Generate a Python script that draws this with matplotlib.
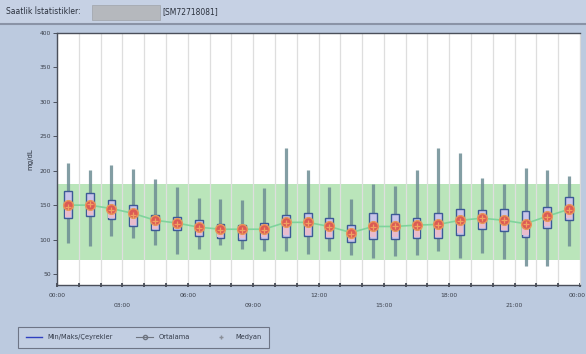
import matplotlib
matplotlib.use("Agg")
import matplotlib.pyplot as plt
from matplotlib.patches import Rectangle
from matplotlib.lines import Line2D
import numpy as np

# Hourly glucose statistics (mg/dL), one entry per hour slot
hours = [h + 0.5 for h in range(24)]
mins = [95, 90, 105, 102, 92, 79, 87, 92, 86, 83, 83, 79,
        83, 78, 73, 76, 78, 83, 73, 80, 72, 61, 61, 90]
q1 = [131, 134, 130, 119, 114, 114, 105, 102, 100, 101, 104, 105,
      102, 97, 101, 101, 102, 102, 107, 115, 112, 104, 117, 129]
medians = [148, 151, 143, 136, 127, 122, 117, 114, 114, 114, 124, 124,
           118, 108, 118, 120, 120, 121, 127, 132, 129, 122, 133, 143]
means = [150, 150, 145, 138, 128, 124, 118, 115, 115, 115, 125, 125,
         119, 110, 119, 119, 121, 122, 128, 131, 128, 123, 134, 144]
q3 = [170, 168, 157, 150, 136, 133, 129, 122, 121, 124, 136, 138,
      131, 121, 139, 137, 131, 139, 144, 143, 144, 141, 147, 162]
maxs = [211, 201, 209, 202, 188, 177, 160, 159, 158, 175, 233, 201,
        177, 159, 181, 178, 201, 233, 225, 189, 181, 204, 201, 192]

target_low, target_high = 70, 180
y_ticks = [50, 100, 150, 200, 250, 300, 350, 400]
x_tick_labels = ["00:00", "03:00", "06:00", "09:00", "12:00",
                 "15:00", "18:00", "21:00", "00:00"]

BG = "#bccadf"
fig = plt.figure(figsize=(5.86, 3.54), dpi=100, facecolor=BG)

# header strip
fig.patches.append(Rectangle((0, 1 - 23 / 354), 1, 23 / 354, transform=fig.transFigure,
                             facecolor="#c6d1e4", edgecolor="none", zorder=0))
fig.add_artist(Line2D([0, 1], [1 - 24 / 354] * 2, transform=fig.transFigure,
                      color="#8a93a6", lw=1.5))
fig.text(6 / 586, 1 - 12 / 354, "Saatlik İstatistikler:", fontsize=5.5,
         color="#2a303c", va="center", ha="left")
fig.patches.append(Rectangle((92 / 586, 1 - 20 / 354), 68 / 586, 15 / 354,
                             transform=fig.transFigure, facecolor="#b5b8bd",
                             edgecolor="#a0a4aa", lw=0.5))
fig.text(162 / 586, 1 - 12 / 354, "[SM72718081]", fontsize=5.5,
         color="#2a303c", va="center", ha="left")

ax = fig.add_axes([57 / 586, 69 / 354, 523 / 586, 252 / 354])
ax.set_facecolor("white")
ax.set_xlim(0, 24)
ax.set_ylim(34, 400)

# target range band
ax.axhspan(target_low, target_high, color="#bae5ba", zorder=0.5, lw=0)

# hourly grid
for h in range(25):
    ax.axvline(h, color="#dedede", lw=0.9, zorder=0.6)

bw = 0.36
for x, lo, a, b, hi in zip(hours, mins, q1, q3, maxs):
    ax.plot([x, x], [lo, hi], color="#6d8d94", lw=2.3, alpha=0.85,
            solid_capstyle="butt", zorder=2)
    ax.add_patch(Rectangle((x - bw / 2, a), bw, b - a, facecolor="#c9c4ea",
                           edgecolor="#3d5a96", lw=1.0, zorder=3))
    ax.add_patch(Rectangle((x - bw / 2 + 0.04, a + 2), bw - 0.08, (b - a) / 2 - 2,
                           facecolor="#e8bccd", edgecolor="none", zorder=3.1))

ax.plot(hours, means, color="#7fd39c", lw=1.2, zorder=4)
ax.plot(hours, means, linestyle="none", marker="o", ms=7,
        markerfacecolor="#dc5a55", markeredgecolor="#e8975a", mew=1.0, zorder=5)
ax.plot(hours, medians, linestyle="none", marker="+", ms=4,
        color="#f0a060", mew=0.9, zorder=6)

ax.set_yticks(y_ticks)
ax.set_yticklabels([str(v) for v in y_ticks])
ax.set_xticks(range(25))
ax.set_xticklabels([])
for i, lab in enumerate(x_tick_labels):
    xpos, ha = i * 3, "center"
    if i == len(x_tick_labels) - 1:
        xpos, ha = 24.25, "right"
    ax.text(xpos, -0.03 if i % 2 == 0 else -0.07, lab,
            transform=ax.get_xaxis_transform(), ha=ha, va="top",
            fontsize=4.3, color="#3a3f4a")
ax.tick_params(axis="y", labelsize=4.3, length=3, width=0.6, colors="#3a3f4a", pad=1.5)
ax.tick_params(axis="x", length=2.5, width=1.2, colors="#3a3f4a", direction="inout")
ax.set_ylabel("mg/dL", fontsize=5, color="#2a303c", labelpad=4)

for side in ["left", "bottom", "top"]:
    ax.spines[side].set_color("#4a4f5a")
    ax.spines[side].set_linewidth(1.0)
ax.spines["right"].set_color("#d8d8d8")

handles = [
    Line2D([], [], color="#3040c0", lw=1.0),
    Line2D([], [], color="#6e7480", lw=0.8, marker="o", ms=3,
           markerfacecolor="none", markeredgecolor="#6e7480"),
    Line2D([], [], linestyle="none", marker="+", ms=3, color="#8a8f99"),
]
leg = fig.legend(handles, ["Min/Maks/Çeyrekler", "Ortalama", "Medyan"],
                 loc="lower left", bbox_to_anchor=(15 / 586, 3 / 354),
                 ncol=3, fontsize=4.8, frameon=True, fancybox=False,
                 handlelength=2.5, columnspacing=3.5, borderpad=1.1,
                 handletextpad=0.8)
leg.get_frame().set_facecolor("#c4d0e3")
leg.get_frame().set_edgecolor("#5a6070")
leg.get_frame().set_linewidth(0.8)
for t in leg.get_texts():
    t.set_color("#333a48")

fig.savefig("out.png", dpi=100, facecolor=BG)
